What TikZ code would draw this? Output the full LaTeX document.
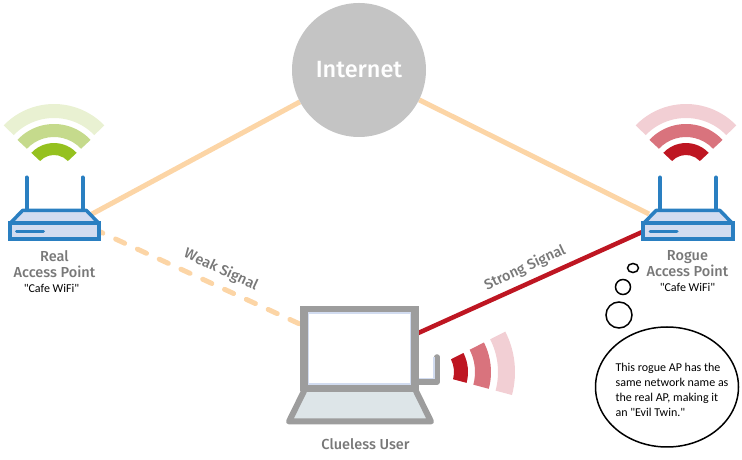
\documentclass[tikz,border=0pt]{standalone}
\usepackage{fontspec}
\newfontfamily\notefont{Carlito}
\newfontfamily\labelfont{Fira Sans Medium}
\usetikzlibrary{positioning,backgrounds,shapes.geometric}

\definecolor{linkorange}{HTML}{FCD5A6}
\definecolor{signalred}{HTML}{BE1622}
\definecolor{midred}{HTML}{D9737D}
\definecolor{palered}{HTML}{F2CFD4}
\definecolor{signalgreen}{HTML}{95C11F}
\definecolor{midgreen}{HTML}{C5DA8C}
\definecolor{palegreen}{HTML}{E9F1D2}
\definecolor{routerblue}{HTML}{2A7FC1}
\definecolor{routerfill}{HTML}{D2DCF0}
\definecolor{laptopgray}{HTML}{9D9D9D}
\definecolor{cloudgray}{HTML}{C4C4C4}
\definecolor{keyfill}{HTML}{DDE5E8}
\definecolor{labelgray}{HTML}{787878}

% one band of a signal fan: centre, start angle, end angle, radii, colour
\newcommand{\signalband}[6]{
\fill[#6] (#1) ++(#2:#5) arc[start angle=#2,end angle=#3,radius=#5]
  -- ++(#3:#4-#5) arc[start angle=#3,end angle=#2,radius=#4] -- cycle;
}

\tikzset{
link/.style={linkorange,line width=5pt},
apname/.style={labelgray,font=\labelfont\fontsize{14.5}{16}\selectfont,align=center,inner sep=0pt},
ssid/.style={black,font=\notefont\fontsize{12}{12}\selectfont,inner sep=0pt},
linklabel/.style={labelgray,font=\labelfont\fontsize{14.5}{15}\selectfont,inner sep=0pt},
puff/.style={draw=black,line width=1.5pt,fill=white,inner sep=0pt},
router/.pic={
\draw[routerblue,line width=4pt,line cap=round] (-28,21) -- (-28,54);
\draw[routerblue,line width=4pt,line cap=round] (28,21) -- (28,54);
\draw[routerblue,line width=3.5pt,line join=round,fill=routerfill]
  (-44.5,8) -- (-32,21) -- (32,21) -- (44.5,8) -- cycle;
\node[draw=routerblue,line width=4pt,fill=routerfill,inner sep=0pt,outer sep=0pt,
  minimum width=89.5pt,minimum height=16pt] (-body) at (0,0) {};
\draw[routerblue,line width=3pt,line cap=round] (-38,0) -- (-11,0);
}
}

\begin{document}
\begin{tikzpicture}[x=1pt,y=1pt]
\useasboundingbox (0,0) rectangle (742,460);

\node[circle,fill=cloudgray,inner sep=0pt,minimum size=134pt,text=white,
  font=\labelfont\fontsize{23.5}{26}\selectfont] (internet) at (359,390) {Internet};

% access points
\pic (real) at (54.5,228.5) {router};
\pic (rogue) at (688,228.5) {router};
\signalband{54,286}{43}{137}{19}{31}{signalgreen}
\signalband{54,286}{43}{137}{37}{50}{midgreen}
\signalband{54,286}{44}{136}{56}{70}{palegreen}
\signalband{686,286}{43}{137}{19}{31}{signalred}
\signalband{686,286}{43}{137}{37}{50}{midred}
\signalband{686,286}{44}{136}{56}{70}{palered}

\node[apname] (reallabel) at (54.5,196) {Real\\Access Point};
\node[ssid,below=6pt of reallabel.south,xshift=-3pt] (realssid) {"Cafe WiFi"};
\node[apname] (roguelabel) at (687.5,196) {Rogue\\Access Point};
\node[ssid,below=6pt of roguelabel.south] (roguessid) {"Cafe WiFi"};

% laptop
\draw[laptopgray,line width=6pt,line join=round,fill=keyfill]
  (305,71) -- (289,38.5) -- (431,38.5) -- (415,71) -- cycle;
\draw[laptopgray,line width=5.5pt,line cap=round,line join=round]
  (418,78) -- (437,78) -- (437,103);
\draw[routerfill,line width=1.5pt] (418,81.5) -- (434,81.5) -- (434,103);
\node[draw=laptopgray,line width=7.5pt,fill=white,inner sep=0pt,outer sep=0pt,
  minimum width=111pt,minimum height=77pt] (screen) at (359.5,111.5) {};
\draw[routerfill,line width=1.5pt] (308.5,76) rectangle (410.5,147);
\signalband{426,88}{-15}{27}{28}{42}{signalred}
\signalband{426,88}{-15}{27}{49}{65}{midred}
\signalband{426,88}{-15}{27}{72}{89}{palered}
\node[labelgray,font=\labelfont\fontsize{14.5}{16}\selectfont,inner sep=0pt,
  below=51pt of screen.south,xshift=6pt] (user) {Clueless User};

% links stay behind the nodes
\coordinate (realup) at (92,246);
\coordinate (rogueup) at (649,246);
\coordinate (userweak) at (304,134);
\coordinate (userstrong) at (415,125.5);
\begin{pgfonlayer}{background}
\draw[link] (internet) -- (realup);
\draw[link] (internet) -- (rogueup);
\draw[link,line cap=round,dash pattern=on 10pt off 14pt,dash phase=6pt] (real-body.east) -- (userweak);
\draw[signalred,line width=4.5pt] (userstrong) -- (rogue-body.west);
\end{pgfonlayer}
\node[linklabel,rotate=-25] (weak) at (221,190) {Weak Signal};
\node[linklabel,rotate=25] (strong) at (525,192) {Strong Signal};

% thought bubble
\node[puff,circle,minimum size=26pt] (puffa) at (619,145) {};
\node[puff,circle,minimum size=15pt] (puffb) at (623,173) {};
\node[puff,ellipse,minimum width=11pt,minimum height=9pt] (puffc) at (633,192) {};
\node[puff,ellipse,minimum width=143pt,minimum height=120pt] (bubble) at (667,73) {};
\node[align=left,inner sep=0pt,font=\notefont\fontsize{12}{15}\selectfont] (thought) at (672,70)
  {This rogue AP has the\\same network name as\\the real AP, making it\\an "Evil Twin."};
\end{tikzpicture}
\end{document}
